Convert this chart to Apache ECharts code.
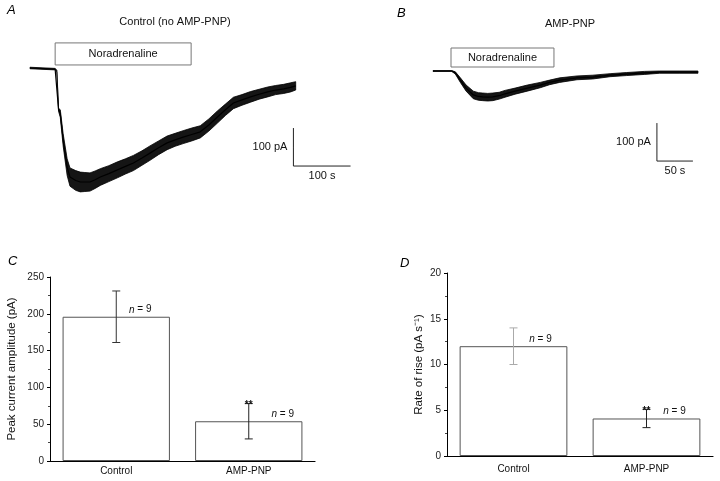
<!DOCTYPE html>
<html><head><meta charset="utf-8">
<script src="https://cdn.jsdelivr.net/npm/echarts@6/dist/echarts.min.js"></script>
<style>html,body{margin:0;padding:0;background:#fff}#c{width:720px;height:481px}</style>
</head><body><div id="c"></div>
<script>
// ---- Panel A: control trace (time s, current pA) ----
const traceA_t     = [0, 44, 47, 50, 53, 58, 65, 70, 80, 88, 96, 105, 114, 123, 138, 153, 167, 181, 196, 210, 225, 240, 254, 268, 283, 298, 313, 328, 342, 356, 371, 386, 401, 416, 430, 444, 456, 465];
const traceA_I     = [0, -3, -8, -110, -120, -189, -261, -287, -296, -300, -300, -300, -294, -287, -278, -268, -259, -250, -237, -224, -210, -197, -189, -182, -175, -168, -150, -129, -110, -92, -84, -76, -69, -63, -58, -55, -51, -47];
const traceA_noise = [2, 2, 2, 4, 10, 16, 22, 24, 26, 26, 25, 24, 23, 22, 21, 21, 20, 20, 19, 19, 18, 18, 17, 17, 17, 16, 16, 16, 15, 15, 14, 14, 13, 13, 12, 12, 12, 11];
const stimA = [44, 282];
// ---- Panel B: AMP-PNP trace ----
const traceB_t     = [0, 26, 31, 38, 46, 56, 63, 69, 76, 83, 92, 100, 114, 131, 149, 162, 176, 200, 222, 246, 269, 294, 315, 343, 368];
const traceB_I     = [0, 0, -5, -24, -45, -63, -67, -68, -69, -68, -65, -60, -53, -45, -37, -30, -24, -18, -16, -11, -8, -5, -3, -3, -3];
const traceB_noise = [1, 1, 3, 6, 8, 10, 10, 10, 10, 10, 9, 9, 8, 8, 7, 6, 6, 5, 5, 4, 4, 4, 3, 3, 3];
const stimB = [25, 168];
// ---- Scale bars ----
const scaleA = { pA: 100, s: 100 };
const scaleB = { pA: 100, s: 50 };
// ---- Panels C and D ----
const groups = ['Control', 'AMP-PNP'];
const peakMean = [196, 54];
const peakSem  = [35, 24];
const peakSig  = ['', '**'];
const riseMean = [12, 4.1];
const riseSem  = [2, 1];
const riseSig  = ['', '**'];
const nCells   = [9, 9];
const peakTicks = [0, 50, 100, 150, 200, 250];
const riseTicks = [0, 5, 10, 15, 20];

const FONT = 'Liberation Sans, Arial, sans-serif';
const chart = echarts.init(document.getElementById('c'), null, {renderer: 'canvas'});

function band(gi, t, I, noise) {
  return [
    {type: 'custom', xAxisIndex: gi, yAxisIndex: gi, silent: true, clip: false,
     data: t.map((x, i) => [x, I[i], noise[i]]),
     renderItem: function (params, api) {
       if (params.dataIndex !== 0) return null;
       const up = [], lo = [];
       for (let i = 0; i < t.length; i++) {
         up.push(api.coord([t[i], I[i] + noise[i]]));
         lo.push(api.coord([t[i], I[i] - noise[i]]));
       }
       const pts = up.concat(lo.reverse());
       return {type: 'polygon', shape: {points: pts}, style: {fill: '#151515', stroke: '#000', lineWidth: 0.8}};
     }},
    {type: 'line', xAxisIndex: gi, yAxisIndex: gi, data: t.map((x, i) => [x, I[i]]),
     symbol: 'none', lineStyle: {width: 1.2, color: '#000'}, silent: true}
  ];
}
function stimBox(gi, stim, lo, hi) {
  return {type: 'line', xAxisIndex: gi, yAxisIndex: gi, data: [], silent: true,
    markArea: {silent: true,
      itemStyle: {color: '#fff', borderColor: '#777', borderWidth: 1},
      label: {show: true, position: 'inside', formatter: 'Noradrenaline', color: '#111', fontSize: 11, fontFamily: FONT},
      data: [[{coord: [stim[0], hi]}, {coord: [stim[1], lo]}]]}};
}
function scaleBar(gi, t0, I0, sc) {
  return {type: 'line', xAxisIndex: gi, yAxisIndex: gi, silent: true, symbol: 'circle', symbolSize: 0, showSymbol: true,
    lineStyle: {width: 1, color: '#222'},
    data: [
      [t0, I0],
      {value: [t0, I0 - sc.pA / 2], label: {show: true, position: 'left', distance: 6, formatter: sc.pA + ' pA', color: '#111', fontSize: 11, fontFamily: FONT}},
      [t0, I0 - sc.pA],
      {value: [t0 + sc.s / 2, I0 - sc.pA], label: {show: true, position: 'bottom', distance: 4, formatter: sc.s + ' s', color: '#111', fontSize: 11, fontFamily: FONT}},
      [t0 + sc.s, I0 - sc.pA]
    ]};
}
function errBars(gi, means, sems, sigs, colors, nOff) {
  return {type: 'custom', xAxisIndex: gi, yAxisIndex: gi, silent: true, z: 10,
    data: means.map((m, i) => [i, m, sems[i]]),
    renderItem: function (params, api) {
      const i = api.value(0), m = api.value(1), s = api.value(2);
      const top = api.coord([i, m + s]), bot = api.coord([i, m - s]), mid = api.coord([i, m]);
      const c = colors[i];
      const ch = [
        {type: 'line', shape: {x1: top[0], y1: top[1], x2: bot[0], y2: bot[1]}, style: {stroke: c, lineWidth: 1}},
        {type: 'line', shape: {x1: top[0] - 4, y1: top[1], x2: top[0] + 4, y2: top[1]}, style: {stroke: c, lineWidth: 1}},
        {type: 'line', shape: {x1: bot[0] - 4, y1: bot[1], x2: bot[0] + 4, y2: bot[1]}, style: {stroke: c, lineWidth: 1}},
        {type: 'text', x: mid[0] + nOff[i], y: mid[1] - 2, style: {text: '{i|n} = ' + nCells[i], align: 'center', verticalAlign: 'bottom',
          fill: '#111', font: '10px ' + FONT, rich: {i: {fontStyle: 'italic', fontSize: 10, fontFamily: FONT}}}}
      ];
      if (sigs[i]) ch.push({type: 'text', x: top[0], y: top[1] + 2, style: {text: sigs[i], align: 'center', verticalAlign: 'middle', fill: '#111', font: 'bold 10px ' + FONT}});
      return {type: 'group', children: ch};
    }};
}
function barAxisY(gi, min, max, interval, name, gap) {
  return {type: 'value', gridIndex: gi, min: min, max: max, interval: interval, name: name, nameLocation: 'middle', nameGap: gap, nameRotate: 90,
    nameTextStyle: {fontSize: 11.5, color: '#111', fontFamily: FONT},
    axisLine: {show: true, lineStyle: {color: '#000', width: 1}},
    axisTick: {show: true, length: 3, lineStyle: {color: '#000'}},
    minorTick: {show: true, splitNumber: 2, length: 2, lineStyle: {color: '#444'}},
    splitLine: {show: false},
    axisLabel: {fontSize: 10, color: '#222', margin: 6, fontFamily: FONT}};
}
function barAxisX(gi, margin) {
  return {type: 'category', gridIndex: gi, data: groups,
    axisLine: {show: true, lineStyle: {color: '#000', width: 1.2}}, axisTick: {show: false},
    axisLabel: {fontSize: 10, color: '#111', margin: margin, fontFamily: FONT}};
}

const option = {
  animation: false,
  backgroundColor: '#fff',
  grid: [
    {left: 30, top: 37.6, width: 325.7, height: 159.6},
    {left: 433, top: 40.6, width: 266.4, height: 125.4},
    {left: 50, top: 277, width: 265, height: 184},
    {left: 447, top: 273, width: 266, height: 183}
  ],
  xAxis: [
    {type: 'value', gridIndex: 0, min: 0, max: 570, show: false},
    {type: 'value', gridIndex: 1, min: 0, max: 370, show: false},
    barAxisX(2, 5),
    barAxisX(3, 8)
  ],
  yAxis: [
    {type: 'value', gridIndex: 0, min: -340, max: 80, show: false},
    {type: 'value', gridIndex: 1, min: -250, max: 80, show: false},
    barAxisY(2, peakTicks[0], peakTicks[peakTicks.length - 1], peakTicks[1] - peakTicks[0], 'Peak current amplitude (pA)', 32),
    barAxisY(3, riseTicks[0], riseTicks[riseTicks.length - 1], riseTicks[1] - riseTicks[0], 'Rate of rise (pA s\u207B\u00B9)', 22)
  ],
  graphic: [
    {type: 'text', left: 7, top: 4, style: {text: 'A', font: 'italic 13px ' + FONT, fill: '#000'}},
    {type: 'text', left: 397, top: 7, style: {text: 'B', font: 'italic 13px ' + FONT, fill: '#000'}},
    {type: 'text', left: 8, top: 255, style: {text: 'C', font: 'italic 13px ' + FONT, fill: '#000'}},
    {type: 'text', left: 400, top: 257, style: {text: 'D', font: 'italic 13px ' + FONT, fill: '#000'}},
    {type: 'text', x: 175, y: 22, style: {text: 'Control (no AMP-PNP)', font: '11px ' + FONT, fill: '#111', align: 'center', verticalAlign: 'middle'}},
    {type: 'text', x: 570, y: 24, style: {text: 'AMP-PNP', font: '11px ' + FONT, fill: '#111', align: 'center', verticalAlign: 'middle'}}
  ],
  series: [].concat(
    band(0, traceA_t, traceA_I, traceA_noise),
    [stimBox(0, stimA, 8, 66), scaleBar(0, 461, -158, scaleA)],
    band(1, traceB_t, traceB_I, traceB_noise),
    [stimBox(1, stimB, 10.5, 60.5), scaleBar(1, 311, -137, scaleB)],
    [
      {type: 'bar', xAxisIndex: 2, yAxisIndex: 2, data: peakMean, barWidth: '81%', silent: true,
       itemStyle: {color: 'rgba(255,255,255,0)', borderColor: '#555', borderWidth: 1}},
      errBars(2, peakMean, peakSem, peakSig, ['#333', '#222'], [24, 34]),
      {type: 'bar', xAxisIndex: 3, yAxisIndex: 3, data: riseMean, barWidth: '81%', silent: true,
       itemStyle: {color: 'rgba(255,255,255,0)', borderColor: '#555', borderWidth: 1}},
      errBars(3, riseMean, riseSem, riseSig, ['#aaa', '#222'], [27, 28])
    ]
  )
};
chart.setOption(option);
</script></body></html>
